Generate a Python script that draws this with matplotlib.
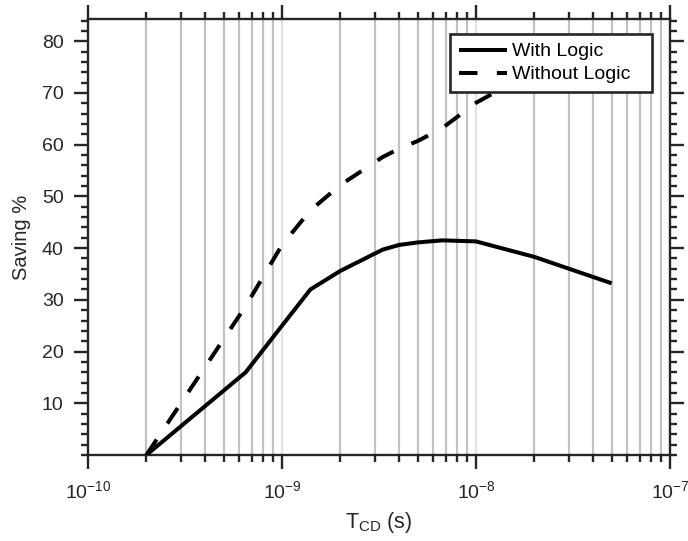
import matplotlib

matplotlib.use("Agg")
import matplotlib.pyplot as plt
from matplotlib.ticker import FixedLocator, LogLocator, MultipleLocator, NullFormatter

plt.rcParams["font.family"] = ["Liberation Sans", "DejaVu Sans"]
plt.rcParams["mathtext.fontset"] = "custom"
plt.rcParams["mathtext.rm"] = "Liberation Sans"
plt.rcParams["mathtext.it"] = "Liberation Sans:italic"
plt.rcParams["axes.unicode_minus"] = False

# T_CD sample points (s)
t_cd = [2e-10, 6.5e-10, 1e-9, 1.4e-9, 2e-9, 3.3e-9, 4e-9, 5e-9, 6.7e-9, 1e-8, 2e-8, 5e-8]
with_logic = [0.0, 16.0, 25.0, 32.0, 35.6, 39.7, 40.6, 41.1, 41.5, 41.3, 38.3, 33.2]
without_logic = [0.0, 28.8, 40.6, 47.3, 52.2, 57.6, 59.2, 60.7, 63.2, 68.1, 74.3, 79.0]

x_ticks = [1e-10, 1e-9, 1e-8, 1e-7]
y_ticks = [10, 20, 30, 40, 50, 60, 70, 80]
dark = "#262626"

fig = plt.figure(figsize=(6.88, 5.41), dpi=100)
ax = fig.add_axes([88 / 688, 1 - 455 / 541, 582 / 688, 436 / 541])

ax.plot(t_cd, with_logic, color="black", lw=2.9, solid_capstyle="butt",
        solid_joinstyle="round", label="With Logic", zorder=3)
ax.plot(t_cd, without_logic, color="black", lw=2.9, linestyle=(0, (4.6, 4.8)),
        dash_capstyle="butt", label="Without Logic", zorder=3)

ax.set_xscale("log")
ax.set_xlim(1e-10, 1e-7)
ax.set_ylim(0, 84.3)
ax.set_yticks(y_ticks)
ax.yaxis.set_minor_locator(MultipleLocator(2))
ax.xaxis.set_major_locator(FixedLocator(x_ticks))
ax.xaxis.set_minor_locator(LogLocator(base=10, subs=range(2, 10), numticks=20))
ax.xaxis.set_minor_formatter(NullFormatter())

ax.set_axisbelow(True)
ax.grid(which="minor", axis="x", color="#c2c2c2", lw=1.6)
ax.grid(which="major", axis="x", color="#e2e2e2", lw=1.6)

for s in ax.spines.values():
    s.set_linewidth(1.7)
    s.set_color(dark)
ax.tick_params(which="both", direction="out", top=True, right=True,
               color=dark, width=1.7, labelsize=14, labelcolor=dark)
ax.tick_params(which="major", length=10, pad=7.5)
ax.tick_params(which="minor", length=5)
ax.tick_params(axis="x", which="major", pad=8.5)

ax.set_xlabel(r"T$_{\mathrm{CD}}$ (s)", fontsize=15.5, color=dark, labelpad=5)
ax.set_ylabel("Saving %", fontsize=14.5, color=dark, labelpad=8)

leg = ax.legend(loc="upper left", bbox_to_anchor=(0.622, 0.8417, 0.347, 0.1239),
                mode="expand", borderaxespad=0, fontsize=14, fancybox=False,
                framealpha=1, edgecolor=dark, handlelength=2.5, handletextpad=0.26,
                labelspacing=0.28, borderpad=0.45)
leg.get_frame().set_linewidth(1.9)

fig.savefig("out.png", dpi=100)
